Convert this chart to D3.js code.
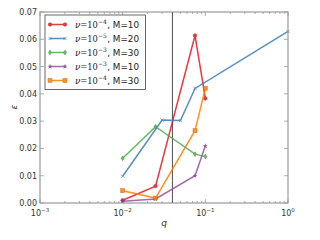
<!DOCTYPE html>
<html>
<head>
<meta charset="utf-8">
<script src="https://cdn.jsdelivr.net/npm/d3@7"></script>
<style>
  body { margin: 0; background: #fff; }
  text { font-family: "DejaVu Sans", sans-serif; }
</style>
</head>
<body>
<div id="container"></div>
<script>
const qValues = [0.01, 0.025, 0.075, 0.1];
const redEps = [0.001, 0.0062, 0.0614, 0.0383];
const blueQ = [0.01, 0.03, 0.05, 0.075, 1.0];
const blueEps = [0.0098, 0.0304, 0.0302, 0.042, 0.0629];
const greenEps = [0.0164, 0.028, 0.0179, 0.017];
const purpleEps = [0.0006, 0.0015, 0.0100, 0.0209];
const orangeEps = [0.0045, 0.0018, 0.0265, 0.042];
const yTicks = [0, 0.01, 0.02, 0.03, 0.04, 0.05, 0.06, 0.07];
const xMajor = [0.001, 0.01, 0.1, 1];
const xExp = ["-3", "-2", "-1", "0"];
const vLine = 0.04;

const seriesList = [
  { nu: "-4", m: 10, color: "#e41a1c", marker: "circle", q: qValues, eps: redEps },
  { nu: "-5", m: 20, color: "#377eb8", marker: "x", q: blueQ, eps: blueEps },
  { nu: "-3", m: 30, color: "#4daf4a", marker: "diamond", q: qValues, eps: greenEps },
  { nu: "-3", m: 10, color: "#984ea3", marker: "star", q: qValues, eps: purpleEps },
  { nu: "-4", m: 30, color: "#ff7f00", marker: "square", q: qValues, eps: orangeEps }
];

const width = 320, height = 240;
const margin = { left: 40, right: 32, top: 12, bottom: 37 };

const svg = d3.select('#container').append('svg')
  .attr('width', width).attr('height', height);

const x = d3.scaleLog().domain([0.001, 1]).range([margin.left, width - margin.right]);
const y = d3.scaleLinear().domain([0, 0.07]).range([height - margin.bottom, margin.top]);

const x0 = x.range()[0], x1 = x.range()[1], y0 = y.range()[0], y1 = y.range()[1];
const axisColor = "#999";

// minor x ticks
const minor = [];
[0.001, 0.01, 0.1].forEach(d => { for (let k = 2; k < 10; k++) minor.push(d * k); });

const ticks = svg.append('g').attr('stroke', axisColor).attr('stroke-width', 0.8);
minor.forEach(v => {
  ticks.append('line').attr('x1', x(v)).attr('x2', x(v)).attr('y1', y0).attr('y2', y0 - 2);
  ticks.append('line').attr('x1', x(v)).attr('x2', x(v)).attr('y1', y1).attr('y2', y1 + 2);
});
xMajor.forEach(v => {
  ticks.append('line').attr('x1', x(v)).attr('x2', x(v)).attr('y1', y0).attr('y2', y0 - 4);
  ticks.append('line').attr('x1', x(v)).attr('x2', x(v)).attr('y1', y1).attr('y2', y1 + 4);
});
yTicks.forEach(v => {
  ticks.append('line').attr('x1', x0).attr('x2', x0 + 4).attr('y1', y(v)).attr('y2', y(v));
  ticks.append('line').attr('x1', x1).attr('x2', x1 - 4).attr('y1', y(v)).attr('y2', y(v));
});

// y tick labels
svg.append('g').selectAll('text').data(yTicks).enter().append('text')
  .attr('x', x0 - 3).attr('y', d => y(d) + 3)
  .attr('text-anchor', 'end').attr('font-size', 8).attr('fill', '#333')
  .text(d => d.toFixed(2));

// x tick labels
const xl = svg.append('g').selectAll('text').data(xMajor).enter().append('text')
  .attr('x', d => x(d)).attr('y', y0 + 13)
  .attr('text-anchor', 'middle').attr('font-size', 8).attr('fill', '#333')
  .attr('font-family', 'DejaVu Serif, serif');
xl.append('tspan').text('10');
xl.append('tspan').attr('dy', -4).attr('font-size', 5.5).text((d, i) => xExp[i].replace('-', '\u2212'));

// vertical line
svg.append('line')
  .attr('x1', x(vLine)).attr('x2', x(vLine)).attr('y1', y0).attr('y2', y1)
  .attr('stroke', '#222').attr('stroke-width', 0.8);

// markers
function drawMarker(g, type, cx, cy, color) {
  const dark = d3.color(color).darker(0.8);
  if (type === 'circle') {
    g.append('circle').attr('cx', cx).attr('cy', cy).attr('r', 1.8).attr('fill', color).attr('stroke', dark).attr('stroke-width', 0.5);
  } else if (type === 'square') {
    g.append('rect').attr('x', cx - 2).attr('y', cy - 2).attr('width', 4).attr('height', 4).attr('fill', color).attr('stroke', dark).attr('stroke-width', 0.5);
  } else if (type === 'diamond') {
    g.append('path').attr('d', `M${cx},${cy - 2.4}L${cx + 1.6},${cy}L${cx},${cy + 2.4}L${cx - 1.6},${cy}Z`).attr('fill', color).attr('stroke', dark).attr('stroke-width', 0.5);
  } else if (type === 'star') {
    g.append('path').attr('d', d3.symbol().type(d3.symbolStar).size(8)()).attr('transform', `translate(${cx},${cy})`).attr('fill', dark);
  } else if (type === 'x') {
    g.append('path').attr('d', `M${cx - 1.5},${cy - 1.5}L${cx + 1.5},${cy + 1.5}M${cx - 1.5},${cy + 1.5}L${cx + 1.5},${cy - 1.5}`).attr('stroke', color).attr('stroke-width', 0.8);
  }
}

const line = d3.line().x(d => x(d[0])).y(d => y(d[1]));
seriesList.forEach(s => {
  const pts = s.q.map((q, i) => [q, s.eps[i]]);
  const g = svg.append('g').attr('opacity', 0.85);
  g.append('path').datum(pts).attr('d', line)
    .attr('fill', 'none').attr('stroke', s.color).attr('stroke-width', 1.5);
  pts.forEach(p => drawMarker(g, s.marker, x(p[0]), y(p[1]), s.color));
});

// frame
svg.append('rect')
  .attr('x', x0).attr('y', y1).attr('width', x1 - x0).attr('height', y0 - y1)
  .attr('fill', 'none').attr('stroke', axisColor).attr('stroke-width', 1.2);

// axis labels
svg.append('text').attr('x', (x0 + x1) / 2).attr('y', 226)
  .attr('text-anchor', 'middle').attr('font-size', 9).attr('font-style', 'italic')
  .attr('font-family', 'DejaVu Serif, serif').attr('fill', '#333').text('q');
svg.append('text').attr('x', 14).attr('y', 110)
  .attr('text-anchor', 'middle').attr('font-size', 9).attr('font-style', 'italic')
  .attr('font-family', 'DejaVu Serif, serif').attr('fill', '#333')
  .attr('transform', 'rotate(-90,14,107)').text('\u03b5');

// legend
const legend = svg.append('g');
legend.append('rect').attr('x', 45).attr('y', 15).attr('width', 100.5).attr('height', 74.5)
  .attr('fill', '#fff').attr('stroke', '#444').attr('stroke-width', 0.8);
seriesList.forEach((s, i) => {
  const ly = 24.5 + i * 14;
  const g = legend.append('g').attr('opacity', 0.85);
  g.append('line').attr('x1', 50).attr('x2', 65).attr('y1', ly).attr('y2', ly)
    .attr('stroke', s.color).attr('stroke-width', 1.5);
  drawMarker(g, s.marker, 50, ly, s.color);
  drawMarker(g, s.marker, 65, ly, s.color);
  const t = legend.append('text').attr('x', 75).attr('y', ly + 3).attr('font-size', 8.8).attr('fill', '#222');
  t.append('tspan').attr('font-family', 'DejaVu Serif, serif').attr('font-style', 'italic').text('\u03bd');
  t.append('tspan').attr('font-family', 'DejaVu Serif, serif').attr('font-size', 8.3).text('=10');
  t.append('tspan').attr('font-family', 'DejaVu Serif, serif').attr('dy', -3.5).attr('font-size', 6).text(s.nu.replace('-', '\u2212'));
  t.append('tspan').attr('dy', 3.5).attr('dx', 0.5).text(', M=' + s.m);
});
</script>
</body>
</html>
